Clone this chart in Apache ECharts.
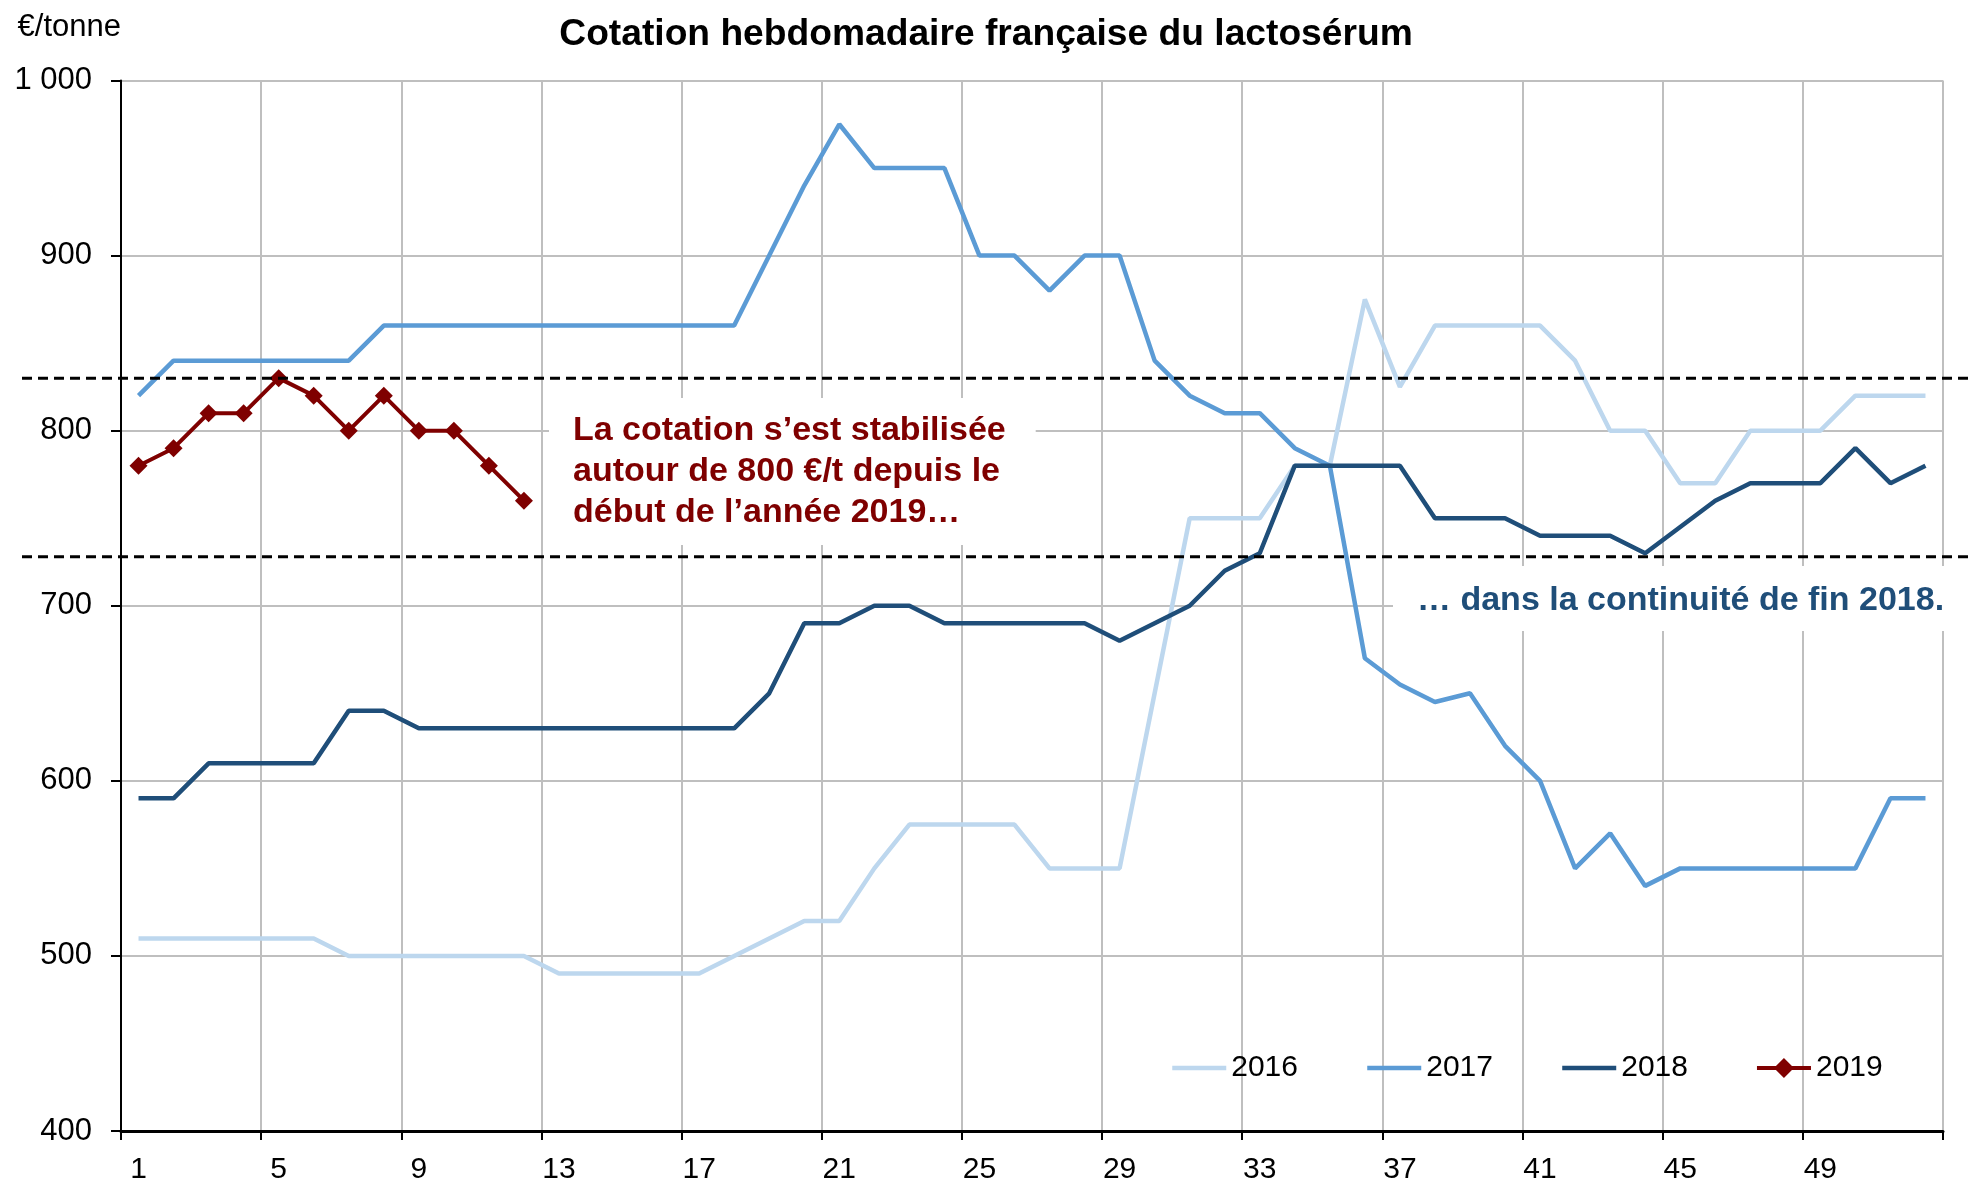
<!DOCTYPE html>
<html lang="fr">

<head>
    <meta charset="UTF-8">
    <title>Cotation hebdomadaire française du lactosérum</title>
    <script src="https://cdn.jsdelivr.net/npm/echarts@6/dist/echarts.min.js"></script>
    <style>
        html, body { margin: 0; padding: 0; background: #fff; }
    </style>
</head>

<body>
    <div id="main" style="width: 1972px;height:1183px;"></div>
    <script>
        // semaines de l'année
        const weeks = ['1', '2', '3', '4', '5', '6', '7', '8', '9', '10', '11', '12', '13',
            '14', '15', '16', '17', '18', '19', '20', '21', '22', '23', '24', '25', '26',
            '27', '28', '29', '30', '31', '32', '33', '34', '35', '36', '37', '38', '39',
            '40', '41', '42', '43', '44', '45', '46', '47', '48', '49', '50', '51', '52'];

        // cotations en €/tonne
        const y2016 = [510, 510, 510, 510, 510, 510, 500, 500, 500, 500, 500, 500, 490,
            490, 490, 490, 490, 500, 510, 520, 520, 550, 575, 575, 575, 575,
            550, 550, 550, 650, 750, 750, 750, 780, 780, 875, 825, 860, 860,
            860, 860, 840, 800, 800, 770, 770, 800, 800, 800, 820, 820, 820];
        const y2017 = [820, 840, 840, 840, 840, 840, 840, 860, 860, 860, 860, 860, 860,
            860, 860, 860, 860, 860, 900, 940, 975, 950, 950, 950, 900, 900,
            880, 900, 900, 840, 820, 810, 810, 790, 780, 670, 655, 645, 650,
            620, 600, 550, 570, 540, 550, 550, 550, 550, 550, 550, 590, 590];
        const y2018 = [590, 590, 610, 610, 610, 610, 640, 640, 630, 630, 630, 630, 630,
            630, 630, 630, 630, 630, 650, 690, 690, 700, 700, 690, 690, 690,
            690, 690, 680, 690, 700, 720, 730, 780, 780, 780, 780, 750, 750,
            750, 740, 740, 740, 730, 745, 760, 770, 770, 770, 790, 770, 780];
        const y2019 = [780, 790, 810, 810, 830, 820, 800, 820, 800, 800, 780, 760];

        // niveaux des pointillés
        const refLevels = [830, 728];

        const font = '"Liberation Sans", Arial, sans-serif';

        let myChart = echarts.init(document.getElementById('main'));

        // pas de rond dans la légende pour les années sans marqueur
        const noDot = { itemStyle: { opacity: 0 }, lineStyle: { width: 4.5 } };

        let option = {
            animation: false,
            backgroundColor: '#fff',
            title: {
                text: 'Cotation hebdomadaire française du lactosérum',
                left: 'center',
                top: 11,
                padding: [5, 5, 5, 15],
                textStyle: { fontFamily: font, fontSize: 37.2, fontWeight: 'bold', color: '#000' }
            },
            legend: {
                left: 1170,
                top: 1053,
                padding: 0,
                itemGap: 67,
                itemWidth: 54,
                itemHeight: 25,
                lineStyle: { width: 4.5 },
                textStyle: { fontFamily: font, fontSize: 30, color: '#000' },
                data: [
                    Object.assign({ name: '2016' }, noDot),
                    Object.assign({ name: '2017' }, noDot),
                    Object.assign({ name: '2018' }, noDot),
                    { name: '2019', lineStyle: { width: 4 } }
                ]
            },
            grid: { left: 121, right: 29, top: 80.5, bottom: 52, outerBoundsMode: 'none' },
            xAxis: {
                type: 'category',
                data: weeks,
                boundaryGap: true,
                axisLine: { lineStyle: { color: '#000', width: 3 } },
                axisTick: { show: true, interval: 3, length: 9, lineStyle: { color: '#000', width: 2 } },
                axisLabel: { interval: 3, margin: 24, fontFamily: font, fontSize: 30, color: '#000' },
                splitLine: { show: true, interval: 3, lineStyle: { color: '#BFBFBF', width: 2 } }
            },
            yAxis: {
                type: 'value',
                min: 400,
                max: 1000,
                interval: 100,
                name: '€/tonne',
                nameLocation: 'end',
                nameGap: 38,
                nameTextStyle: { fontFamily: font, fontSize: 31, color: '#000', align: 'right' },
                axisLine: { show: true, lineStyle: { color: '#000', width: 2 } },
                axisTick: { show: true, length: 10, lineStyle: { color: '#000', width: 2 } },
                axisLabel: {
                    margin: 29, fontFamily: font, fontSize: 31, color: '#000',
                    formatter: function (v) { return v >= 1000 ? '1 000' : String(v); }
                },
                splitLine: { show: true, lineStyle: { color: '#BFBFBF', width: 2 } }
            },
            series: [
                { name: '2016', type: 'line', data: y2016, showSymbol: false, symbol: 'none',
                  lineStyle: { color: '#BDD7EE', width: 4.5 }, itemStyle: { color: '#BDD7EE' } },
                { name: '2017', type: 'line', data: y2017, showSymbol: false, symbol: 'none',
                  lineStyle: { color: '#5B9BD5', width: 4.5 }, itemStyle: { color: '#5B9BD5' } },
                { name: '2018', type: 'line', data: y2018, showSymbol: false, symbol: 'none',
                  lineStyle: { color: '#1F4E79', width: 4.5 }, itemStyle: { color: '#1F4E79' } },
                { name: '2019', type: 'line', data: y2019, symbol: 'diamond', symbolSize: 18,
                  lineStyle: { color: '#7F0000', width: 4 }, itemStyle: { color: '#7F0000' } }
            ]
        };
        myChart.setOption(option);

        // pointillés qui débordent de la zone du graphique + encadrés de texte
        let graphics = refLevels.map(function (v) {
            let y = myChart.convertToPixel({ yAxisIndex: 0 }, v);
            return {
                type: 'line', z: 20,
                shape: { x1: 22, y1: y, x2: 1972, y2: y },
                style: { stroke: '#000', lineWidth: 3, lineDash: [10, 6] }
            };
        });
        graphics.push({
            type: 'text', left: 549, top: 398, z: 30,
            style: {
                text: 'La cotation s’est stabilisée\nautour de 800 €/t depuis le\ndébut de l’année 2019…',
                fontFamily: font, fontSize: 34, fontWeight: 'bold', fill: '#7F0000',
                lineHeight: 41, backgroundColor: '#fff', padding: [12, 30, 12, 24]
            }
        });
        graphics.push({
            type: 'text', left: 1393, top: 566, z: 30,
            style: {
                text: '… dans la continuité de fin 2018.',
                fontFamily: font, fontSize: 34, fontWeight: 'bold', fill: '#1F4E79',
                lineHeight: 41, backgroundColor: '#fff', padding: [14, 20, 10, 24]
            }
        });
        myChart.setOption({ graphic: graphics });
    </script>
</body>

</html>
